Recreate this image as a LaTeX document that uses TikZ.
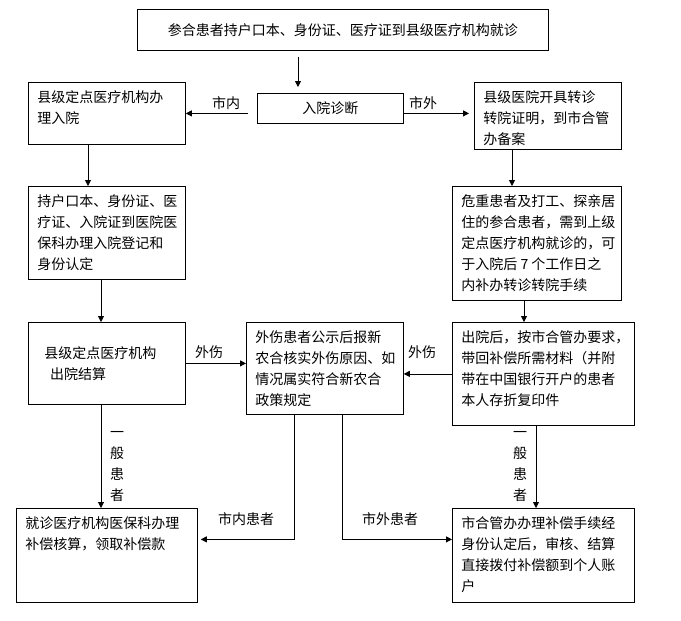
\documentclass[tikz,border=0pt]{standalone}
\usepackage{fontspec}
\setmainfont{Noto Sans CJK SC}
\usetikzlibrary{arrows.meta}

% text block of a box: width, height (pt), lines
\newcommand{\boxtext}[3]{\begin{minipage}[c][\dimexpr#2pt-16pt\relax][t]{\dimexpr#1pt-18pt\relax}\raggedright #3\end{minipage}}

\begin{document}
\begin{tikzpicture}[x=1pt, y=-1pt,
  flowbox/.style={rectangle, draw, line width=0.8pt, anchor=north west, inner xsep=9pt, inner ysep=8pt, font=\fontsize{14}{21}\selectfont},
  tag/.style={inner sep=0pt, font=\fontsize{14}{21}\selectfont},
  arrow/.style={-{Triangle[length=6pt, width=6pt]}, line width=0.8pt}
]
\useasboundingbox (0,0) rectangle (681,621);

% Nodes
\node[flowbox, minimum width=411pt, minimum height=41pt, inner sep=0pt] (start) at (137,9) {参合患者持户口本、身份证、医疗证到县级医疗机构就诊};
\node[flowbox, minimum width=146pt, minimum height=30pt, inner sep=0pt] (diag) at (257,93) {入院诊断};
\node[flowbox] (admit) at (28,82) {\boxtext{157}{62}{县级定点医疗机构办\\理入院}};
\node[flowbox] (refer) at (474,82) {\boxtext{147}{67}{县级医院开具转诊\\转院证明，到市合管\\办备案}};
\node[flowbox] (register) at (28,186) {\boxtext{157}{93}{持户口本、身份证、医\\疗证、入院证到医院医\\保科办理入院登记和\\身份认定}};
\node[flowbox] (severe) at (452,186) {\boxtext{169}{114}{危重患者及打工、探亲居\\住的参合患者，需到上级\\定点医疗机构就诊的，可\\于入院后 7 个工作日之\\内补办转诊转院手续}};
\node[flowbox, minimum width=157pt, minimum height=82pt, text width=125pt, inner xsep=16pt, align=left] (settle) at (28,322) {县级定点医疗机构\\\hspace{0.4em}出院结算};
\node[flowbox] (injury) at (246,322) {\boxtext{157}{92}{外伤患者公示后报新\\农合核实外伤原因、如\\情况属实符合新农合\\政策规定}};
\node[flowbox] (discharge) at (452,322) {\boxtext{182}{103}{出院后，按市合管办要求，\\带回补偿所需材料（并附\\带在中国银行开户的患者\\本人存折复印件}};
\node[flowbox] (reimb) at (16,508) {\boxtext{181}{94}{就诊医疗机构医保科办理\\补偿核算，领取补偿款}};
\node[flowbox] (citypay) at (452,508) {\boxtext{182}{94}{市合管办办理补偿手续经\\身份认定后，审核、结算\\直接拨付补偿额到个人账\\户}};

% Labels
\node[tag] (inner) at (226,103) {市内};
\node[tag] (outer) at (423,103) {市外};
\node[tag] (hurtl) at (209,352) {外伤};
\node[tag] (hurtr) at (422,352) {外伤};
\node[tag, align=center] (generall) at (117,466.5) {一\\般\\患\\者};
\node[tag, align=center] (generalr) at (520,466.5) {一\\般\\患\\者};
\node[tag] (innerpat) at (246,519) {市内患者};
\node[tag] (outerpat) at (390,519) {市外患者};

% Arrows
\draw[arrow, shorten <=6pt, shorten >=6pt] ([xshift=161pt]start.south west) -- ([xshift=41pt]diag.north west);
\draw[arrow, shorten <=9pt] (diag.west |- admit.east) -- (admit.east);
\draw[arrow, shorten >=5pt] (diag.east |- admit.east) -- (refer.west |- admit.east);
\draw[arrow] ([xshift=60pt]admit.south west) -- ([xshift=60pt]register.north west);
\draw[arrow] ([xshift=38pt]refer.south west) -- ([xshift=60pt]severe.north west);
\draw[arrow] ([xshift=73pt]register.south west) -- ([xshift=73pt]settle.north west);
\draw[arrow] ([xshift=72pt]severe.south west) -- ([xshift=72pt]discharge.north west);
\draw[arrow] (settle.east) -- (injury.west |- settle.east);
\draw[arrow] (discharge.west) -- (injury.east |- discharge.west);
\draw[arrow] ([xshift=73pt]settle.south west) -- ([xshift=85pt]reimb.north west);
\draw[arrow] ([xshift=84pt]discharge.south west) -- ([xshift=84pt]citypay.north west);
\draw[arrow, shorten >=3pt] ([xshift=48pt]injury.south west) |- ([yshift=16pt]reimb.east);
\draw[arrow] ([xshift=96pt]injury.south west) |- ([yshift=16pt]citypay.west);

\end{tikzpicture}
\end{document}
